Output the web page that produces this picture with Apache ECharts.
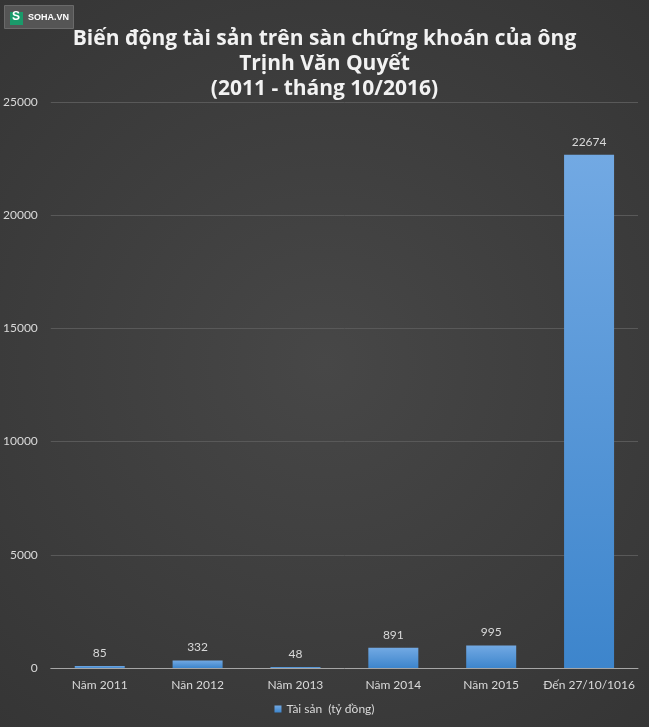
<!DOCTYPE html>
<html><head><meta charset="utf-8">
<script src="https://cdn.jsdelivr.net/npm/echarts@6/dist/echarts.min.js"></script>
<style>html,body{margin:0;padding:0;background:#3a3a3a}#c{width:649px;height:727px}</style>
</head><body><div id="c"></div>
<script>
const categories = ['Năm 2011','Năn 2012','Năm 2013','Năm 2014','Năm 2015','Đến 27/10/1016'];
const values = [85, 332, 48, 891, 995, 22674];
const seriesName = 'Tài sản  (tỷ đồng)';
const titleLines = ['Biến động tài sản trên sàn chứng khoán của ông','Trịnh Văn Quyết','(2011 - tháng 10/2016)'];

const chart = echarts.init(document.getElementById('c'));
const font = 'Lato, "Open Sans", sans-serif';
chart.setOption({
  backgroundColor: {type:'radial', x:0.5, y:0.5, r:0.8, colorStops:[{offset:0,color:'#474747'},{offset:1,color:'#343434'}]},
  animation:false,
  title:{
    text: titleLines.join('\n'), left:'center', top:22,
    textStyle:{color:'#f2f2f2', fontSize:21, fontWeight:'bold', fontFamily:'"Open Sans", sans-serif', lineHeight:25}
  },
  graphic:[
    {type:'rect', left:4, top:5, shape:{width:69, height:23}, style:{fill:'#555555', stroke:'#6a6a6a', lineWidth:1}},
    {type:'rect', left:10, top:12, shape:{width:13, height:13}, style:{fill:'#1a9a6a'}},
    {type:'text', left:12, top:11, style:{text:'S', fill:'#fff', font:'bold 12px Arial'}},
    {type:'text', left:28, top:13, style:{text:'SOHA.VN', fill:'#fff', font:'bold 9px Arial'}}
  ],
  legend:{
    bottom:7, left:'center', itemWidth:7, itemHeight:7, icon:'rect', itemGap:4,
    textStyle:{color:'#d9d9d9', fontSize:12, fontFamily:font},
    data:[seriesName]
  },
  grid:{left:48, right:11, top:102, bottom:59, containLabel:false},
  xAxis:{
    type:'category', data:categories,
    axisLine:{lineStyle:{color:'#a6a6a6', width:1}},
    axisTick:{show:false},
    axisLabel:{color:'#d9d9d9', fontSize:12, fontFamily:font, margin:11, interval:0}
  },
  yAxis:{
    type:'value', min:0, max:25000, interval:5000,
    axisLine:{show:false}, axisTick:{show:false},
    splitLine:{lineStyle:{color:'#595959', width:1}},
    axisLabel:{color:'#d9d9d9', fontSize:12, fontFamily:font, margin:13, align:'right', formatter:(v)=>String(v)}
  },
  series:[{
    name:seriesName, type:'bar', data:values, barWidth:50,
    itemStyle:{color:{type:'linear', x:0, y:0, x2:0, y2:1, colorStops:[{offset:0,color:'#72a9e3'},{offset:1,color:'#3d85cc'}]}},
    label:{show:true, position:'top', distance:7, color:'#d9d9d9', fontSize:12, fontFamily:font}
  }]
});
</script></body></html>
